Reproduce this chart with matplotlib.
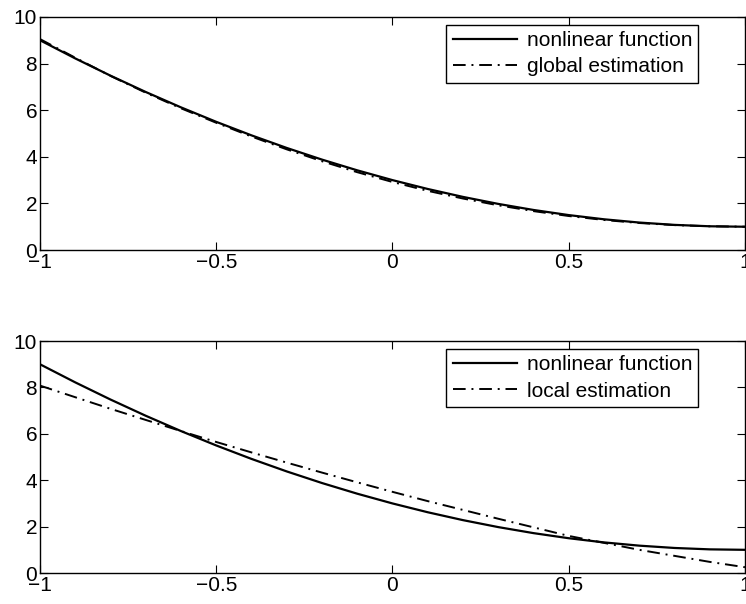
import matplotlib.pyplot as plt

plt.rcParams['font.family'] = ['Liberation Sans', 'DejaVu Sans']

# valores
x = [-1.0, -0.9, -0.8, -0.7, -0.6, -0.5, -0.4, -0.3, -0.2, -0.1, 0.0,
     0.1, 0.2, 0.3, 0.4, 0.5, 0.6, 0.7, 0.8, 0.9, 1.0]
nonlinear = [9.0, 8.22, 7.48, 6.78, 6.12, 5.5, 4.92, 4.38, 3.88, 3.42, 3.0,
             2.62, 2.28, 1.98, 1.72, 1.5, 1.32, 1.18, 1.08, 1.02, 1.0]
global_est = [9.05, 8.25, 7.47, 6.75, 6.08, 5.46, 4.87, 4.32, 3.81, 3.34, 2.92,
              2.54, 2.21, 1.92, 1.67, 1.46, 1.29, 1.16, 1.07, 1.02, 1.0]
local_est = [8.08, 7.58, 7.08, 6.6, 6.12, 5.65, 5.2, 4.76, 4.33, 3.91, 3.5,
             3.1, 2.72, 2.34, 1.97, 1.6, 1.3, 1.0, 0.74, 0.48, 0.25]

xticks = [-1, -0.5, 0, 0.5, 1]
xticklabels = ['\u22121', '\u22120.5', '0', '0.5', '1']
yticks = [0, 2, 4, 6, 8, 10]

fig = plt.figure(figsize=(7.46, 6.04), dpi=100)
ax1 = fig.add_axes([0.0536, 0.586, 0.945, 0.386])
ax2 = fig.add_axes([0.0536, 0.0513, 0.945, 0.384])

dashdot = (0, (6.5, 3, 1, 3))

def draw(ax, est, label):
    ax.plot(x, nonlinear, color='black', lw=1.6, label='nonlinear function')
    ax.plot(x, est, color='black', lw=1.4, linestyle=dashdot, label=label)
    ax.set_xlim(-1, 1)
    ax.set_ylim(0, 10)
    ax.set_xticks(xticks)
    ax.set_xticklabels(xticklabels)
    ax.set_yticks(yticks)
    ax.tick_params(direction='in', top=True, right=True, labelsize=15,
                   length=6, width=0.8, pad=2)
    for s in ax.spines.values():
        s.set_linewidth(1.0)
    leg = ax.legend(loc='upper right', bbox_to_anchor=(0.934, 0.966),
                    fontsize=15, fancybox=False, framealpha=1,
                    edgecolor='black', borderpad=0.3, handlelength=3.1,
                    handletextpad=0.45, labelspacing=0.35, borderaxespad=0)
    leg.get_frame().set_linewidth(1.0)

draw(ax1, global_est, 'global estimation')
draw(ax2, local_est, 'local estimation')

fig.savefig('out.png', dpi=100)
